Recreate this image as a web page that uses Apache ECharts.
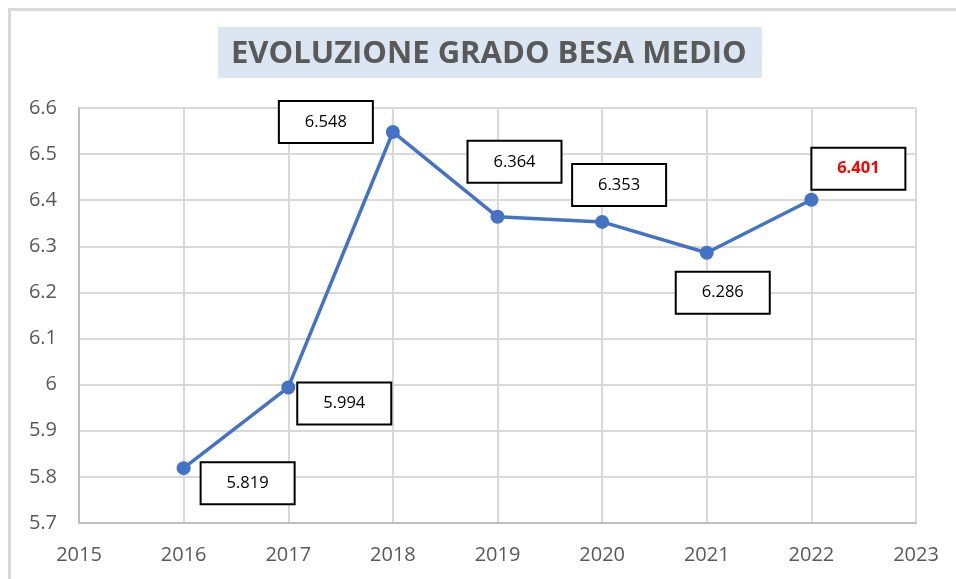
<!DOCTYPE html>
<html>
<head>
<meta charset="utf-8">
<script src="https://cdn.jsdelivr.net/npm/echarts@6/dist/echarts.min.js"></script>
<style>
  html, body { margin: 0; padding: 0; background: #fff; }
  #chart { width: 956px; height: 579px; }
</style>
</head>
<body>
<div id="chart"></div>
<script>
// dati
var years = [2016, 2017, 2018, 2019, 2020, 2021, 2022]
var besaValues = [5.819, 5.994, 6.548, 6.364, 6.353, 6.286, 6.401]
// spostamento delle etichette (px) rispetto al punto
var labelOffsets = [[64, 15], [56, 16], [-67, -10], [17, -55], [17, -37], [16, 40], [47, -31]]

var myChart = echarts.init(document.getElementById('chart'))

var seriesData = years.map(function (y, i) {
  var item = {
    value: [y, besaValues[i]],
    label: { offset: labelOffsets[i] }
  }
  // ultimo valore evidenziato in rosso
  if (i === years.length - 1) {
    item.label.color = '#ff0000'
    item.label.fontWeight = 'bold'
  }
  return item
})

var font = '"Open Sans", "Liberation Sans", sans-serif'

myChart.setOption({
  animation: false,
  textStyle: { fontFamily: font },
  title: {
    text: 'EVOLUZIONE GRADO BESA MEDIO',
    left: 226,
    top: 34,
    textStyle: { fontSize: 31, fontWeight: 'bold', color: '#595959', fontFamily: font }
  },
  graphic: [
    { type: 'rect', z: -1, shape: { x: 218, y: 27, width: 544, height: 51 }, style: { fill: '#dce6f2' } },
    { type: 'line', shape: { x1: 8, y1: 9.5, x2: 956, y2: 9.5 }, style: { stroke: '#d9d9d9', lineWidth: 3 } },
    { type: 'line', shape: { x1: 9.5, y1: 8, x2: 9.5, y2: 579 }, style: { stroke: '#d9d9d9', lineWidth: 3 } }
  ],
  grid: { left: 79, right: 40, top: 108, bottom: 56 },
  xAxis: {
    type: 'value',
    min: 2015,
    max: 2023,
    interval: 1,
    axisLine: { show: true, onZero: false, lineStyle: { color: '#bfbfbf', width: 2 } },
    axisTick: { show: false },
    axisLabel: {
      color: '#595959', fontSize: 20, margin: 22, fontFamily: font,
      formatter: function (v) { return String(v) }
    },
    splitLine: { show: true, lineStyle: { color: '#d9d9d9', width: 2 } }
  },
  yAxis: {
    type: 'value',
    min: 5.7,
    max: 6.6,
    interval: 0.1,
    axisLine: { show: true, onZero: false, lineStyle: { color: '#bfbfbf', width: 2 } },
    axisTick: { show: false },
    axisLabel: {
      color: '#595959', fontSize: 20, margin: 22, fontFamily: font,
      formatter: function (v) { return String(Math.round(v * 10) / 10) }
    },
    splitLine: { show: true, lineStyle: { color: '#d9d9d9', width: 2 } }
  },
  series: [
    {
      type: 'line',
      data: seriesData,
      symbol: 'circle',
      symbolSize: 14,
      itemStyle: { color: '#4472c4' },
      lineStyle: { color: '#4472c4', width: 3.5 },
      label: {
        show: true,
        position: 'inside',
        formatter: function (p) { return p.value[1].toFixed(3) },
        color: '#000',
        fontSize: 16.5,
        fontFamily: font,
        backgroundColor: '#fff',
        borderColor: '#000',
        borderWidth: 2,
        width: 92,
        height: 40,
        lineHeight: 40,
        align: 'center',
        verticalAlign: 'middle'
      },
      z: 3
    }
  ]
})
window.addEventListener('resize', function () {
  myChart.resize()
})
</script>
</body>
</html>
